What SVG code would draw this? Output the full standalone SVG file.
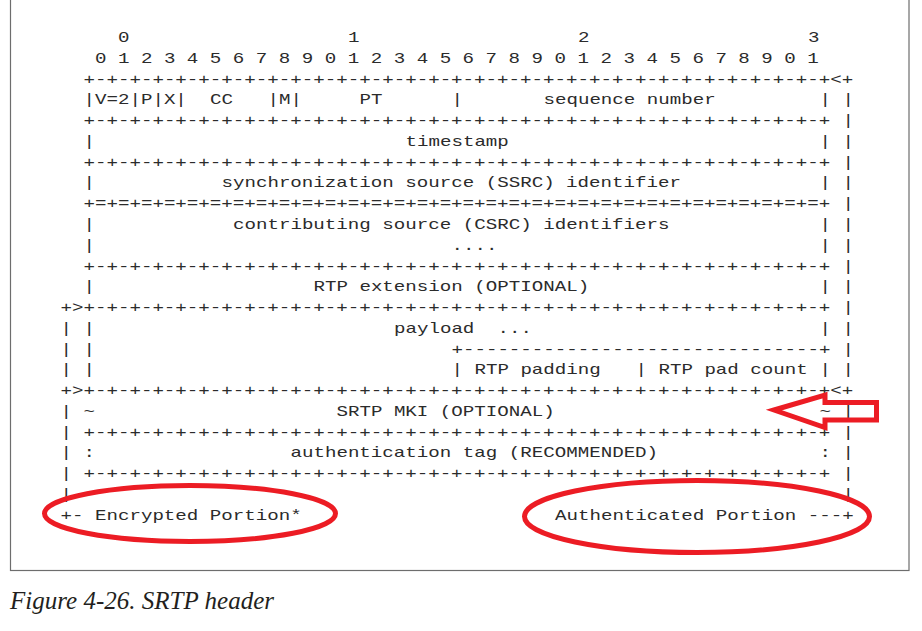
<svg xmlns="http://www.w3.org/2000/svg" width="922" height="631" viewBox="0 0 922 631">
<style>
.t{font-family:"Liberation Mono","Courier New",monospace;font-size:14px;fill:#2b2b2b}
.red{fill:none;stroke:#ec1c24;stroke-width:5}
.cap{font-family:"Liberation Serif","Times New Roman",serif;font-style:italic;font-size:24.5px;fill:#231f20}
</style>
<rect width="922" height="631" fill="#ffffff"/>
<rect id="frame" x="10.5" y="-10" width="898.5" height="580.5" fill="none" stroke="#6d6d6d" stroke-width="1.2"/>
<g id="srtp-header" class="t" transform="translate(83.45,0) scale(1.369,1)">
<g id="bit-numbers">
<text x="25.2" y="42.18">0</text><text x="193.2" y="42.18">1</text><text x="361.2" y="42.18">2</text><text x="529.2" y="42.18">3</text>
<text x="8.4" y="62.94">0 1 2 3 4 5 6 7 8 9 0 1 2 3 4 5 6 7 8 9 0 1 2 3 4 5 6 7 8 9 0 1</text>
</g>
<g id="row0"><text x="0" y="83.7">+-+-+-+-+-+-+-+-+-+-+-+-+-+-+-+-+-+-+-+-+-+-+-+-+-+-+-+-+-+-+-+-+&lt;+</text></g>
<g id="row1">
<text x="0" y="104.46">|V=2|P|X|</text><text x="92.4" y="104.46">CC</text><text x="134.4" y="104.46">|M|</text><text x="201.6" y="104.46">PT</text><text x="268.8" y="104.46">|</text><text x="336" y="104.46">sequence number</text><text x="537.6" y="104.46">|</text><text x="554.4" y="104.46">|</text>
</g>
<g id="row2"><text x="0" y="125.22">+-+-+-+-+-+-+-+-+-+-+-+-+-+-+-+-+-+-+-+-+-+-+-+-+-+-+-+-+-+-+-+-+</text><text x="554.4" y="125.22">|</text></g>
<g id="row3"><text x="0" y="145.98">|</text><text x="235.2" y="145.98">timestamp</text><text x="537.6" y="145.98">|</text><text x="554.4" y="145.98">|</text></g>
<g id="row4"><text x="0" y="166.74">+-+-+-+-+-+-+-+-+-+-+-+-+-+-+-+-+-+-+-+-+-+-+-+-+-+-+-+-+-+-+-+-+</text><text x="554.4" y="166.74">|</text></g>
<g id="row5"><text x="0" y="187.5">|</text><text x="100.8" y="187.5">synchronization source (SSRC) identifier</text><text x="537.6" y="187.5">|</text><text x="554.4" y="187.5">|</text></g>
<g id="row6"><text x="0" y="208.26">+=+=+=+=+=+=+=+=+=+=+=+=+=+=+=+=+=+=+=+=+=+=+=+=+=+=+=+=+=+=+=+=+</text><text x="554.4" y="208.26">|</text></g>
<g id="row7"><text x="0" y="229.02">|</text><text x="109.2" y="229.02">contributing source (CSRC) identifiers</text><text x="537.6" y="229.02">|</text><text x="554.4" y="229.02">|</text></g>
<g id="row8"><text x="0" y="249.78">|</text><text x="268.8" y="249.78">....</text><text x="537.6" y="249.78">|</text><text x="554.4" y="249.78">|</text></g>
<g id="row9"><text x="0" y="270.54">+-+-+-+-+-+-+-+-+-+-+-+-+-+-+-+-+-+-+-+-+-+-+-+-+-+-+-+-+-+-+-+-+</text><text x="554.4" y="270.54">|</text></g>
<g id="row10"><text x="0" y="291.3">|</text><text x="168" y="291.3">RTP extension (OPTIONAL)</text><text x="537.6" y="291.3">|</text><text x="554.4" y="291.3">|</text></g>
<g id="row11"><text x="-16.8" y="312.06">+&gt;+-+-+-+-+-+-+-+-+-+-+-+-+-+-+-+-+-+-+-+-+-+-+-+-+-+-+-+-+-+-+-+-+</text><text x="554.4" y="312.06">|</text></g>
<g id="row12"><text x="-16.8" y="332.82">|</text><text x="0" y="332.82">|</text><text x="226.8" y="332.82">payload</text><text x="302.4" y="332.82">...</text><text x="537.6" y="332.82">|</text><text x="554.4" y="332.82">|</text></g>
<g id="row13"><text x="-16.8" y="353.58">|</text><text x="0" y="353.58">|</text><text x="268.8" y="353.58">+-------------------------------+</text><text x="554.4" y="353.58">|</text></g>
<g id="row14"><text x="-16.8" y="374.34">|</text><text x="0" y="374.34">|</text><text x="268.8" y="374.34">|</text><text x="285.6" y="374.34">RTP padding</text><text x="403.2" y="374.34">|</text><text x="420" y="374.34">RTP pad count</text><text x="537.6" y="374.34">|</text><text x="554.4" y="374.34">|</text></g>
<g id="row15"><text x="-16.8" y="395.1">+&gt;+-+-+-+-+-+-+-+-+-+-+-+-+-+-+-+-+-+-+-+-+-+-+-+-+-+-+-+-+-+-+-+-+&lt;+</text></g>
<g id="row16"><text x="-16.8" y="415.86">|</text><text x="0" y="415.86">~</text><text x="184.8" y="415.86">SRTP MKI (OPTIONAL)</text><text x="537.6" y="415.86">~</text><text x="554.4" y="415.86">|</text></g>
<g id="row17"><text x="-16.8" y="436.62">|</text><text x="0" y="436.62">+-+-+-+-+-+-+-+-+-+-+-+-+-+-+-+-+-+-+-+-+-+-+-+-+-+-+-+-+-+-+-+-+</text><text x="554.4" y="436.62">|</text></g>
<g id="row18"><text x="-16.8" y="457.38">|</text><text x="0" y="457.38">:</text><text x="151.2" y="457.38">authentication tag (RECOMMENDED)</text><text x="537.6" y="457.38">:</text><text x="554.4" y="457.38">|</text></g>
<g id="row19"><text x="-16.8" y="478.14">|</text><text x="0" y="478.14">+-+-+-+-+-+-+-+-+-+-+-+-+-+-+-+-+-+-+-+-+-+-+-+-+-+-+-+-+-+-+-+-+</text><text x="554.4" y="478.14">|</text></g>
<g id="row20"><text x="-16.8" y="498.9">|</text><text x="554.4" y="498.9">|</text></g>
<g id="row21"><text x="-16.8" y="519.66">+- Encrypted Portion*</text><text x="344.4" y="519.66">Authenticated Portion ---+</text></g>
</g>
<g id="annotations">
<ellipse id="encrypted-circle" class="red" cx="190" cy="513.5" rx="145.5" ry="28"/>
<ellipse id="authenticated-circle" class="red" cx="697" cy="516.5" rx="172.5" ry="36"/>
<polygon id="mki-arrow" class="red" stroke-linejoin="miter" points="774,410 825,395 825,402.5 876.5,402.5 876.5,420 825,420 825,427.5"/>
</g>
<text id="caption" class="cap" x="10" y="609" textLength="264" lengthAdjust="spacingAndGlyphs">Figure 4-26. SRTP header</text>
</svg>
